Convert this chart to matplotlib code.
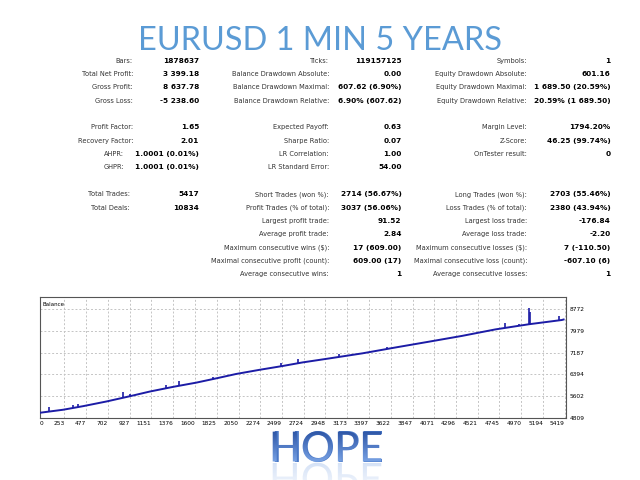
import numpy as np
import matplotlib
matplotlib.use("Agg")
import matplotlib.pyplot as plt
from matplotlib.textpath import TextPath
from matplotlib.font_manager import FontProperties
from matplotlib.patches import PathPatch
from matplotlib.transforms import Affine2D

# ---------------- data ----------------
title_text = "EURUSD 1 MIN 5 YEARS"
footer_text = "HOPE"

col1_labels = ["Bars:", "Total Net Profit:", "Gross Profit:", "Gross Loss:", "",
               "Profit Factor:", "Recovery Factor:", "AHPR:", "GHPR:", "",
               "Total Trades:", "Total Deals:"]
col1_values = ["1878637", "3 399.18", "8 637.78", "-5 238.60", "",
               "1.65", "2.01", "1.0001 (0.01%)", "1.0001 (0.01%)", "",
               "5417", "10834"]

col2_labels = ["Ticks:", "Balance Drawdown Absolute:", "Balance Drawdown Maximal:",
               "Balance Drawdown Relative:", "",
               "Expected Payoff:", "Sharpe Ratio:", "LR Correlation:", "LR Standard Error:", "",
               "Short Trades (won %):", "Profit Trades (% of total):", "Largest profit trade:",
               "Average profit trade:", "Maximum consecutive wins ($):",
               "Maximal consecutive profit (count):", "Average consecutive wins:"]
col2_values = ["119157125", "0.00", "607.62 (6.90%)", "6.90% (607.62)", "",
               "0.63", "0.07", "1.00", "54.00", "",
               "2714 (56.67%)", "3037 (56.06%)", "91.52", "2.84", "17 (609.00)",
               "609.00 (17)", "1"]

col3_labels = ["Symbols:", "Equity Drawdown Absolute:", "Equity Drawdown Maximal:",
               "Equity Drawdown Relative:", "",
               "Margin Level:", "Z-Score:", "OnTester result:", "", "",
               "Long Trades (won %):", "Loss Trades (% of total):", "Largest loss trade:",
               "Average loss trade:", "Maximum consecutive losses ($):",
               "Maximal consecutive loss (count):", "Average consecutive losses:"]
col3_values = ["1", "601.16", "1 689.50 (20.59%)", "20.59% (1 689.50)", "",
               "1794.20%", "46.25 (99.74%)", "0", "", "",
               "2703 (55.46%)", "2380 (43.94%)", "-176.84", "-2.20", "7 (-110.50)",
               "-607.10 (6)", "1"]

# balance curve (trade number, balance)
balance_trades = [0, 240, 446, 687, 927, 1133, 1373, 1614, 1820, 2026, 2266, 2506,
                  2712, 2987, 3330, 3674, 4016, 4360, 4703, 5046, 5389, 5417]
balance_values = [5000, 5110, 5240, 5410, 5600, 5770, 5940, 6095, 6250, 6410, 6560,
                  6700, 6830, 6975, 7160, 7375, 7583, 7795, 8030, 8216, 8372, 8399.18]

# equity spikes on the curve
spike_trades = [93, 343, 394, 858, 927, 1305, 1431, 1782, 2489, 2660, 3090, 3587,
                4807, 4944, 5046, 5056, 5355]
spike_heights = [164, 109, 127, 218, 73, 109, 182, 73, 109, 145, 109, 73,
                 182, 73, 600, 440, 145]

x_tick_values = [0, 253, 477, 702, 927, 1151, 1376, 1600, 1825, 2050, 2274, 2499,
                 2724, 2948, 3173, 3397, 3622, 3847, 4071, 4296, 4521, 4745, 4970,
                 5194, 5419]
y_tick_values = [4809, 5602, 6394, 7187, 7979, 8772]

# ---------------- figure ----------------
W, H = 640, 480
fig = plt.figure(figsize=(W / 100, H / 100), dpi=100)
fig.patch.set_facecolor("white")

ax0 = fig.add_axes([0, 0, 1, 1])
ax0.set_xlim(0, W)
ax0.set_ylim(H, 0)
ax0.axis("off")
renderer = fig.canvas.get_renderer()

# title
t = ax0.text(320, 50, title_text, ha="center", va="baseline", family="Lato",
             fontsize=25, color="#5b9bd5")
w = t.get_window_extent(renderer).width
t.set_fontsize(25 * 364 / w)

# statistics table
ROW0, ROW_STEP = 60.0, 13.36
LAB_FS, VAL_FS = 4.75, 5.3
columns = [
    (col1_labels, col1_values, 199.0, (133.0, 130.0), 11),
    (col2_labels, col2_values, 401.5, (329.0, 329.0), 6),
    (col3_labels, col3_values, 610.5, (527.0, 527.0), 6),
]
for labels, values, vx, lxs, gap in columns:
    for i, (lab, val) in enumerate(zip(labels, values)):
        if not lab and not val:
            continue
        y = ROW0 + ROW_STEP * i + 2.6
        tv = ax0.text(vx, y, val, ha="right", va="baseline", fontsize=VAL_FS,
                      fontweight="bold", color="black", family="DejaVu Sans")
        left = tv.get_window_extent(renderer).x0
        lx = lxs[0] if i < 9 else lxs[1]
        lx = min(lx, left - gap)
        ax0.text(lx, y, lab, ha="right", va="baseline", fontsize=LAB_FS,
                 color="#333333", family="DejaVu Sans")

# footer "HOPE" with gradient and reflection
BASE = 461.5
ht = ax0.text(327, BASE, footer_text, ha="center", va="baseline", family="Lato",
              fontsize=30, color="#4a78c6")
hb = ht.get_window_extent(renderer)
fs = ht.get_fontsize()
fp = FontProperties(family="Lato", size=fs)
tp = TextPath((0, 0), footer_text, prop=fp, size=fs * 100 / 72)
ext = tp.get_extents()
x_left = hb.x0 + (hb.width - ext.width) / 2 - ext.x0
cap_top = BASE - ext.y1

# gradient over the glyphs
front = tp.transformed(Affine2D().scale(1, -1).translate(x_left, BASE))
fpatch = PathPatch(front, facecolor="none", edgecolor="none", transform=ax0.transData)
ax0.add_patch(fpatch)
c_top = np.array(matplotlib.colors.to_rgb("#2850a2"))
c_bot = np.array(matplotlib.colors.to_rgb("#78a2e4"))
n = 64
fr = np.linspace(0, 1, n)[:, None]
g = np.zeros((n, 2, 4))
g[..., :3] = (c_top[None, :] * (1 - fr) + c_bot[None, :] * fr)[:, None, :]
g[..., 3] = 1.0
imf = ax0.imshow(g, extent=[hb.x0 - 10, hb.x1 + 10, BASE + 1, cap_top - 1],
                 aspect="auto", interpolation="bilinear", zorder=3)
imf.set_clip_path(fpatch)

# reflection
refl = tp.transformed(Affine2D().translate(x_left, BASE + 1.5))
rpatch = PathPatch(refl, facecolor="none", edgecolor="none", transform=ax0.transData)
ax0.add_patch(rpatch)
grad = np.zeros((40, 2, 4))
grad[..., :3] = matplotlib.colors.to_rgb("#7aa3e4")
grad[..., 3] = np.linspace(0.32, 0.0, 40)[:, None]
im = ax0.imshow(grad, extent=[hb.x0 - 10, hb.x1 + 10, BASE + 36, BASE + 1],
                aspect="auto", interpolation="bilinear", zorder=1)
im.set_clip_path(rpatch)
ax0.set_xlim(0, W)
ax0.set_ylim(H, 0)

# ---------------- balance chart ----------------
ax = fig.add_axes([40 / W, 1 - 418 / H, 526 / W, 121 / H])
ax.set_xlim(0, 5432)
ax.set_ylim(4809, 9208)
line_color = "#1c1ca6"
ax.plot(balance_trades, balance_values, color=line_color, lw=1.4, solid_capstyle="butt", zorder=3)
base = np.interp(spike_trades, balance_trades, balance_values)
ax.vlines(spike_trades, base, base + np.array(spike_heights), color=line_color, lw=1.2, zorder=3)

ax.set_xticks(x_tick_values)
ax.set_xticklabels([str(v) for v in x_tick_values])
ax.set_yticks(y_tick_values)
ax.set_yticklabels([str(v) for v in y_tick_values])
ax.yaxis.tick_right()
ax.tick_params(axis="both", length=0, labelsize=4.2, colors="black", pad=2)
ax.tick_params(axis="y", pad=2.5)
for k, lbl in enumerate(ax.get_xticklabels()):
    lbl.set_ha("left" if k == 0 else "right")
ax.grid(True, color="#c4c4c4", linestyle=(0, (2, 2)), lw=0.7)
for s in ax.spines.values():
    s.set_color("#555555")
    s.set_linewidth(0.8)
ax.text(0.005, 0.955, "Balance", transform=ax.transAxes, ha="left", va="top",
        fontsize=4.0, color="black")

fig.savefig("out.png", dpi=100, facecolor="white")
